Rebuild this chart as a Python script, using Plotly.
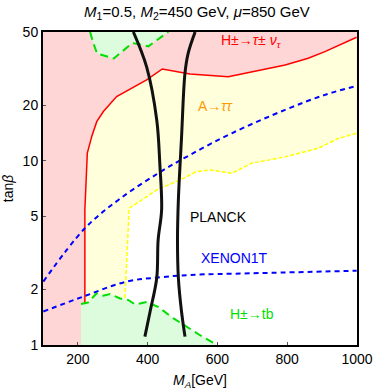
import numpy as np
import plotly.graph_objects as go

# Axis bounds
X_MIN, X_MAX = 100, 1000
Y_MIN, Y_MAX = 1, 50

# H± -> τν boundary (red solid)
red_x = [220, 220, 227, 232, 240, 254, 273, 311, 360, 397, 442, 521, 631, 700, 794, 860, 908, 999]
red_y = [1.69, 5.41, 11.0, 11.9, 13.6, 16.3, 18.5, 22.3, 25.0, 27.5, 31.5, 29.6, 28.6, 30.5, 33.1, 36.0, 39.1, 46.8]

# A -> ττ boundary (yellow dashed)
yel_x = [335, 347, 426, 493, 540, 579, 641, 698, 794, 889, 946, 999]
yel_y = [1.80, 5.52, 6.94, 7.87, 8.73, 8.91, 8.55, 9.69, 10.5, 11.7, 13.2, 14.1]

# H± -> tb boundary, low tanβ (green dashed)
grn_x = [209, 229, 254, 273, 292, 321, 344, 364, 397, 430, 473, 512, 550, 600]
grn_y = [1.67, 1.70, 1.91, 1.85, 1.89, 1.79, 1.755, 1.66, 1.71, 1.61, 1.40, 1.26, 1.13, 1.0]

# H± -> tb boundary, high tanβ (green dashed)
grn2_x = [235, 244, 255, 303, 356, 402, 459]
grn2_y = [50, 43.6, 38.2, 35.9, 43.6, 41.8, 50]

# XENON1T lines (blue dashed)
xe1_x = [101, 220, 316, 430, 521, 641, 794, 908, 999]
xe1_y = [2.21, 4.30, 6.13, 8.55, 10.75, 14.1, 18.9, 22.8, 25.5]
xe2_x = [101, 215, 340, 435, 521, 698, 999]
xe2_y = [1.52, 1.83, 2.21, 2.33, 2.40, 2.45, 2.53]

# PLANCK relic density lines (black)
pl1_x = [359, 397, 426, 435, 440, 430, 426, 407, 392]
pl1_y = [50, 32.3, 16.65, 9.49, 5.41, 3.72, 2.31, 1.52, 1.11]
pl2_x = [536, 516, 507, 497, 488, 485.5, 488, 497, 507]
pl2_y = [50, 38.3, 30.0, 13.3, 6.13, 3.72, 2.31, 1.52, 1.11]

x_ticks = [200, 400, 600, 800, 1000]
y_ticks = [1, 2, 5, 10, 20, 50]

PINK = "#ffd6d6"
YELLOW = "#ffffdc"
GREEN = "#ddfbdd"
FONT = "Liberation Sans, Arial, sans-serif"

fig = go.Figure()

# Yellow region: inside red boundary
fig.add_trace(go.Scatter(
    x=red_x + [X_MAX, red_x[0]], y=red_y + [Y_MIN, Y_MIN],
    fill="toself", fillcolor=YELLOW, line=dict(width=0), mode="lines",
    hoverinfo="skip"))
# White region: inside yellow boundary
fig.add_trace(go.Scatter(
    x=yel_x + [X_MAX, yel_x[0]], y=yel_y + [Y_MIN, Y_MIN],
    fill="toself", fillcolor="white", line=dict(width=0), mode="lines",
    hoverinfo="skip"))
# Green regions
fig.add_trace(go.Scatter(
    x=grn_x + [grn_x[0]], y=grn_y + [Y_MIN],
    fill="toself", fillcolor=GREEN, line=dict(width=0), mode="lines",
    hoverinfo="skip"))
fig.add_trace(go.Scatter(
    x=grn2_x, y=grn2_y,
    fill="toself", fillcolor=GREEN, line=dict(width=0), mode="lines",
    hoverinfo="skip"))

# Boundary lines
fig.add_trace(go.Scatter(x=red_x, y=red_y, mode="lines",
                         line=dict(color="#ff0000", width=1.5)))
fig.add_trace(go.Scatter(x=yel_x, y=yel_y, mode="lines",
                         line=dict(color="#ffff00", width=1.5, dash="4px,2px")))
fig.add_trace(go.Scatter(x=grn_x, y=grn_y, mode="lines",
                         line=dict(color="#00e000", width=2, dash="8px,5px")))
fig.add_trace(go.Scatter(x=grn2_x, y=grn2_y, mode="lines",
                         line=dict(color="#00e000", width=2, dash="8px,5px")))
fig.add_trace(go.Scatter(x=xe1_x, y=xe1_y, mode="lines", line_shape="spline",
                         line=dict(color="#0000ff", width=2, dash="5px,4px")))
fig.add_trace(go.Scatter(x=xe2_x, y=xe2_y, mode="lines", line_shape="spline",
                         line=dict(color="#0000ff", width=2, dash="5px,4px")))
fig.add_trace(go.Scatter(x=pl1_x, y=pl1_y, mode="lines", line_shape="spline",
                         line=dict(color="#111111", width=3)))
fig.add_trace(go.Scatter(x=pl2_x, y=pl2_y, mode="lines", line_shape="spline",
                         line=dict(color="#111111", width=3)))

# Labels
labels = [
    ("H±→<i>τ</i>± <i>ν</i><sub><i>τ</i></sub>", 699, 44.7, "#ff0000"),
    ("A→<i>ττ</i>", 594, 19.8, "#ff9900"),
    ("PLANCK", 603, 4.95, "black"),
    ("XENON1T", 650, 2.97, "#0000ff"),
    ("H±→tb", 700, 1.47, "#00e000"),
]
for txt, lx, ly, col in labels:
    fig.add_annotation(x=lx, y=np.log10(ly), text=txt, showarrow=False,
                       font=dict(family=FONT, size=14, color=col))

axis_common = dict(showgrid=False, zeroline=False, showline=True, mirror=True,
                   linecolor="black", linewidth=2, ticks="inside", ticklen=3,
                   tickcolor="#555555", automargin=False,
                   tickfont=dict(family=FONT, size=14, color="black"))

fig.update_xaxes(range=[X_MIN, X_MAX], tickvals=x_ticks,
                 title=dict(text="<i>M</i><sub><i>A</i></sub>[GeV]",
                            font=dict(family=FONT, size=14, color="black"), standoff=9),
                 **axis_common)
fig.update_yaxes(type="log", range=[np.log10(Y_MIN), np.log10(Y_MAX)],
                 tickvals=y_ticks, ticktext=[str(v) for v in y_ticks],
                 title=dict(text="tan<i>β</i>",
                            font=dict(family=FONT, size=14, color="black"), standoff=6),
                 **axis_common)

W, H = 374, 392
fig.update_layout(
    width=W, height=H,
    margin=dict(l=43, r=17, t=32, b=47),
    plot_bgcolor=PINK, paper_bgcolor="white",
    showlegend=False,
    title=dict(text="<i>M</i><sub>1</sub>=0.5, <i>M</i><sub>2</sub>=450 GeV, <i>μ</i>=850 GeV",
               x=197 / W, xanchor="center", y=1 - 12 / H, yanchor="middle",
               font=dict(family=FONT, size=15, color="black"), automargin=False),
)

# Remove the default page body margin so the figure sits at the window's corner.
fig.write_html("out.html",
               config={"displayModeBar": False},
               post_script="document.body.style.margin='0';document.body.style.overflow='hidden';")
